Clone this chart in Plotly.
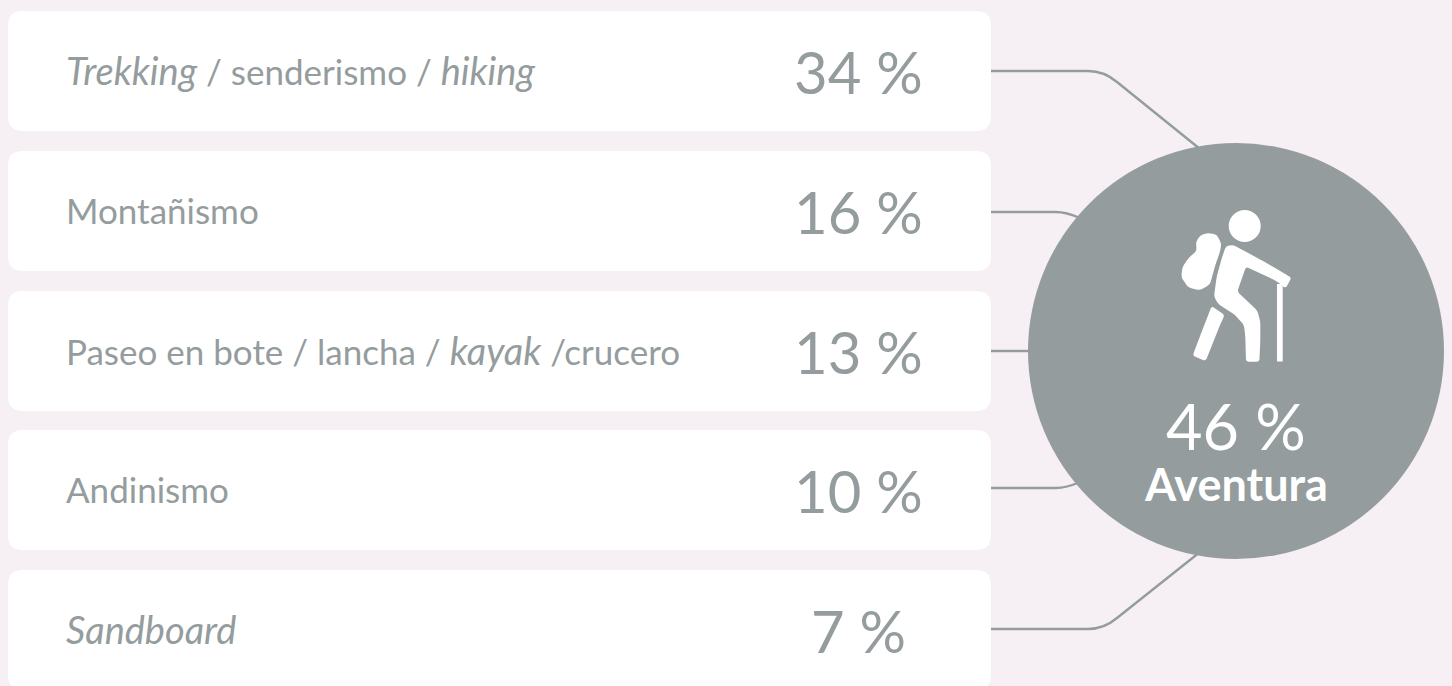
import math
import plotly.graph_objects as go

IT = '<i><span style="font-size:38px">'
TI = "</span></i>"
labels = [f"{IT}Trekking{TI} / senderismo / {IT}hiking{TI}", "Montañismo",
          f"Paseo en bote / lancha / {IT}kayak{TI} /crucero", "Andinismo", f"{IT}Sandboard{TI}"]
percent_values = [34, 16, 13, 10, 7]
total_value = 46
total_label = "Aventura"

GREY = "#949c9e"
BG = "#f6f0f5"
FONT = "Lato"
card_tops = [11, 151, 291, 430, 570]
card_h = 120
line_y = [71, 212, 351, 488, 629]
CX, CY, R = 1236, 351, 208


def card_path(x0, y0, x1, y1, r=15):
    return (f"M{x0+r},{y0} L{x1-r},{y0} Q{x1},{y0} {x1},{y0+r} L{x1},{y1-r} Q{x1},{y1} {x1-r},{y1} "
            f"L{x0+r},{y1} Q{x0},{y1} {x0},{y1-r} L{x0},{y0+r} Q{x0},{y0} {x0+r},{y0} Z")


def rounded(points, cut=3.0):
    pts = [(1120 + x / 3, 190 + y / 3) for x, y in points]
    n = len(pts)

    def toward(a, b):
        d = math.hypot(b[0] - a[0], b[1] - a[1])
        t = min(cut, d / 2) / d
        return (a[0] + (b[0] - a[0]) * t, a[1] + (b[1] - a[1]) * t)

    out = ""
    for i in range(n):
        p, prev, nxt = pts[i], pts[i - 1], pts[(i + 1) % n]
        a, b = toward(p, prev), toward(p, nxt)
        out += ("M" if i == 0 else "L") + f"{a[0]:.1f},{a[1]:.1f} Q{p[0]:.1f},{p[1]:.1f} {b[0]:.1f},{b[1]:.1f} "
    return out + "Z"


shapes = []
for t in card_tops:
    shapes.append(dict(type="path", path=card_path(8, t, 991, t + card_h), fillcolor="white", line_width=0, layer="below"))

connectors = [
    "M991,71 L1088,71 Q1104,71 1117,82 L1200,149",
    "M991,212 L1056,212 Q1066,212 1080,218",
    "M991,351 L1040,351",
    "M991,488 L1056,488 Q1066,488 1080,482",
    "M991,629 L1088,629 Q1104,629 1117,618 L1200,552",
]
for p in connectors:
    shapes.append(dict(type="path", path=p, line=dict(color=GREY, width=2.4), layer="below"))
shapes.append(dict(type="circle", x0=CX - R, x1=CX + R, y0=CY - R, y1=CY + R, fillcolor=GREY, line_width=0))

icon_white = [
    # backpack
    [(262, 129), (290, 134), (304, 160), (300, 185), (286, 225), (270, 283), (240, 301), (205, 293), (184, 262), (187, 232),
     (205, 205), (230, 182), (228, 155), (240, 137)],
    # torso, arm and front leg
    [(340, 165), (420, 208), (505, 257), (514, 264), (497, 295), (484, 285), (468, 272), (420, 250), (378, 230),
     (352, 305), (412, 362), (421, 395), (421, 450), (418, 515), (378, 515), (376, 440), (372, 405), (345, 375),
     (295, 342), (282, 320), (290, 260), (305, 205), (318, 168)],
    # rear leg
    [(275, 348), (314, 375), (300, 405), (257, 513), (218, 497), (230, 465), (255, 400)],
]
for pts in icon_white:
    shapes.append(dict(type="path", path=rounded(pts), fillcolor="white", line_width=0))
# cane and head
shapes.append(dict(type="rect", x0=1277, x1=1282.7, y0=284, y1=361.5, fillcolor="white", line_width=0))
shapes.append(dict(type="circle", x0=1228.7, x1=1260.7, y0=210, y1=242, fillcolor="white", line_width=0))

annotations = []
for lab, v, t in zip(labels, percent_values, card_tops):
    cy = t + 60
    annotations.append(dict(x=64, y=cy - 1, text=lab, xanchor="left", yanchor="middle", showarrow=False,
                            font=dict(family=FONT, size=35, color=GREY)))
    annotations.append(dict(x=858, y=cy, text=f"{v} %", xanchor="center", yanchor="middle", showarrow=False,
                            font=dict(family=FONT, size=58, color=GREY)))
annotations.append(dict(x=1236, y=425, text=f"{total_value} %", xanchor="center", yanchor="middle", showarrow=False,
                        font=dict(family=FONT, size=63, color="white")))
annotations.append(dict(x=1236, y=484, text=f"<b>{total_label}</b>", xanchor="center", yanchor="middle", showarrow=False,
                        font=dict(family=FONT, size=45, color="white")))

fig = go.Figure()
fig.update_layout(
    width=1452, height=686, margin=dict(l=0, r=0, t=0, b=0),
    paper_bgcolor=BG, plot_bgcolor=BG, showlegend=False,
    xaxis=dict(range=[0, 1452], visible=False, fixedrange=True),
    yaxis=dict(range=[686, 0], visible=False, fixedrange=True),
    shapes=shapes, annotations=annotations,
)
fig.write_html("out.html", config={"displayModeBar": False},
               post_script="document.body.style.margin='0';document.body.style.background='#f6f0f5';document.body.style.overflow='hidden';")
